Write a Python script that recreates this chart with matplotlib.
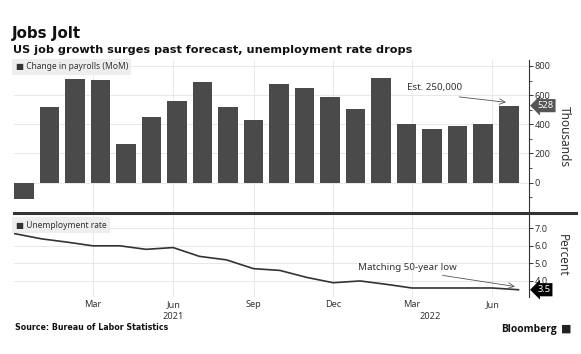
import numpy as np
import pandas as pd
import matplotlib
matplotlib.use("Agg")
import matplotlib.pyplot as plt
import matplotlib.dates as mdates
import matplotlib.transforms as mtrans
from matplotlib.lines import Line2D

# monthly data, Dec 2020 .. Jul 2022
MONTHS = pd.date_range("2020-12-01", "2022-07-01", freq="MS")
PAYROLLS = [-110, 521, 711, 704, 263, 448, 558, 688, 517, 427,
            677, 647, 585, 503, 715, 400, 366, 386, 400, 528]
UNEMPLOYMENT = [6.7, 6.4, 6.2, 6.0, 6.0, 5.8, 5.9, 5.4, 5.2, 4.7,
                4.6, 4.2, 3.9, 4.0, 3.8, 3.6, 3.6, 3.6, 3.6, 3.5]

TICK_DATES = pd.to_datetime(["2021-03-01", "2021-06-01", "2021-09-01",
                             "2021-12-01", "2022-03-01", "2022-06-01"])
TICK_LABELS = ["Mar", "Jun", "Sep", "Dec", "Mar", "Jun"]
YEAR_LABELS = [("2021", "2021-06-01"), ("2022", "2022-03-22")]

plt.rcParams["font.family"] = ["Noto Sans", "DejaVu Sans"]
TXT = "#333333"
GRID = "#e4e4e4"

fig = plt.figure(figsize=(5.81, 3.54), dpi=100)
L, W = 14 / 581, 515 / 581
ax1 = fig.add_axes([L, 1 - 213.3 / 354, W, 153.3 / 354])
ax2 = fig.add_axes([L, 1 - 297.3 / 354, W, 84 / 354], sharex=ax1)

d0 = mdates.date2num(MONTHS[0])
d1 = mdates.date2num(MONTHS[-1])
bar_w = 22.4
centers = np.linspace(d0 + bar_w / 2, d1 - bar_w / 2, len(PAYROLLS))

ax1.bar(centers, PAYROLLS, width=bar_w, color="#4a4a4a", zorder=3)
ax1.set_ylim(-210, 841)
ax1.set_yticks([0, 200, 400, 600, 800])
ax1.set_yticks(np.arange(-200, 900, 100), minor=True)

ax2.plot(MONTHS, UNEMPLOYMENT, color="#333333", lw=1.2, zorder=3)
ax2.set_ylim(3.07, 7.85)
ax2.set_yticks([4, 5, 6, 7])
ax2.set_yticklabels(["4.0", "5.0", "6.0", "7.0"])

ax1.set_xlim(d0, d1 + 12)
ax2.set_xticks(TICK_DATES)
ax2.set_xticklabels(TICK_LABELS)

for ax in (ax1, ax2):
    for s in ("left", "top", "bottom"):
        ax.spines[s].set_visible(False)
    ax.spines["right"].set_color(TXT)
    ax.spines["right"].set_linewidth(0.8)
    ax.yaxis.tick_right()
    ax.tick_params(axis="y", which="major", direction="out", length=3, width=0.7,
                   colors=TXT, labelsize=6.6, pad=1)
    ax.tick_params(axis="y", which="minor", direction="out", length=2, width=0.6,
                   colors=TXT)
    ax.tick_params(axis="x", length=0, labelsize=6.6, colors=TXT, pad=2)
    ax.grid(True, axis="both", color=GRID, lw=0.6, zorder=0)
    ax.set_facecolor("white")
ax1.tick_params(axis="x", labelbottom=False)

ax1.yaxis.set_label_position("right")
ax1.set_ylabel("Thousands", rotation=270, fontsize=8.5, color=TXT, labelpad=15)
ax2.yaxis.set_label_position("right")
ax2.set_ylabel("Percent", rotation=270, fontsize=8.5, color=TXT, labelpad=15)

# year labels under the month ticks
tr = mtrans.blended_transform_factory(ax2.transData, ax2.transAxes)
for lab, d in YEAR_LABELS:
    ax2.text(mdates.date2num(pd.Timestamp(d)), -0.225, lab, transform=tr,
             ha="center", va="center", fontsize=6.6, color=TXT)

# legend tags
ax1.text(0.003, 0.955, "\u25a0 Change in payrolls (MoM)", transform=ax1.transAxes,
         fontsize=6.1, color=TXT, va="center", ha="left",
         bbox=dict(facecolor="#eeeeee", edgecolor="none", pad=2.5))
ax2.text(0.003, 0.86, "\u25a0 Unemployment rate", transform=ax2.transAxes,
         fontsize=6.1, color=TXT, va="center", ha="left",
         bbox=dict(facecolor="#eeeeee", edgecolor="none", pad=2.5))

# last value tags
tr1 = mtrans.blended_transform_factory(ax1.transAxes, ax1.transData)
ax1.text(1.016, PAYROLLS[-1], str(PAYROLLS[-1]), transform=tr1, fontsize=6.8,
         color="white", va="center", ha="left",
         bbox=dict(boxstyle="larrow,pad=0.22", facecolor="#555555", edgecolor="none"))
tr2 = mtrans.blended_transform_factory(ax2.transAxes, ax2.transData)
ax2.text(1.016, UNEMPLOYMENT[-1], "%.1f" % UNEMPLOYMENT[-1], transform=tr2,
         fontsize=6.8, color="white", va="center", ha="left",
         bbox=dict(boxstyle="larrow,pad=0.22", facecolor="black", edgecolor="none"))

# annotations
ax1.text(mdates.date2num(pd.Timestamp("2022-02-23")), 654, "Est. 250,000",
         fontsize=7, color=TXT, va="center", ha="left")
ax1.annotate("", xy=(centers[-1], 549),
             xytext=(mdates.date2num(pd.Timestamp("2022-04-21")), 590),
             arrowprops=dict(arrowstyle="->", color="#555555", lw=0.6))
ax2.text(mdates.date2num(pd.Timestamp("2021-12-30")), 4.74, "Matching 50-year low",
         fontsize=7, color=TXT, va="center", ha="left")
ax2.annotate("", xy=(mdates.date2num(pd.Timestamp("2022-06-30")), 3.66),
             xytext=(mdates.date2num(pd.Timestamp("2022-04-02")), 4.34),
             arrowprops=dict(arrowstyle="->", color="#555555", lw=0.6))

# panel separator
sep_y = 1 - 213.3 / 354
fig.add_artist(Line2D([14 / 581, 576 / 581], [sep_y, sep_y], transform=fig.transFigure,
                      color="#333333", lw=2.2))

fig.text(12 / 581, 1 - 38.3 / 354, "Jobs Jolt", fontsize=10.8, fontweight="bold",
         family="DejaVu Sans", color="#111111", va="baseline")
fig.text(13 / 581, 1 - 53.3 / 354, "US job growth surges past forecast, unemployment rate drops",
         fontsize=8.1, fontweight="bold", family="DejaVu Sans", color="#111111", va="baseline")
fig.text(15 / 581, 1 - 330.5 / 354, "Source: Bureau of Labor Statistics", fontsize=5.7,
         fontweight="bold", family="DejaVu Sans", color="#111111", va="baseline")
fig.text(557 / 581, 1 - 331.7 / 354, "Bloomberg", fontsize=7.4, fontweight="bold",
         family=["Open Sans", "DejaVu Sans"], color="#111111", va="baseline", ha="right")
fig.text(561 / 581, 1 - 332 / 354, "\u25a0", fontsize=8, family="DejaVu Sans",
         color="#222222", va="baseline", ha="left")

fig.savefig("out.png", dpi=100, facecolor="white")
